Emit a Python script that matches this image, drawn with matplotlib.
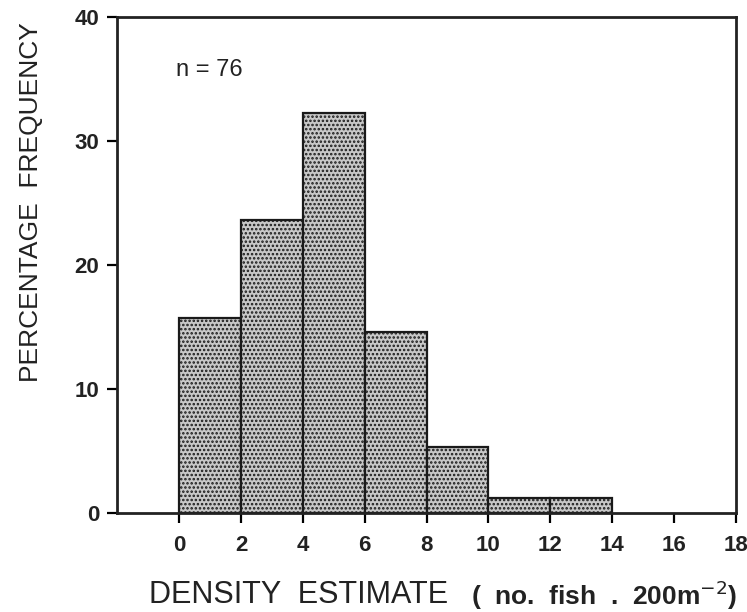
import matplotlib.pyplot as plt
import numpy as np

plt.rcParams["font.family"] = ["Liberation Sans", "DejaVu Sans"]
plt.rcParams["hatch.linewidth"] = 1.2

bin_edges = [0, 2, 4, 6, 8, 10, 12, 14]
freq = [15.7, 23.6, 32.3, 14.6, 5.3, 1.2, 1.2]
x_ticks = [0, 2, 4, 6, 8, 10, 12, 14, 16, 18]
y_ticks = [0, 10, 20, 30, 40]


def plotHist():
    fig = plt.figure(figsize=(7.47, 6.12), dpi=100)
    ax = fig.add_axes([0.157, 0.162, 0.828, 0.81])

    widths = np.diff(bin_edges)
    ax.bar(bin_edges[:-1], freq, width=widths, align="edge",
           color="#c8c8c8", edgecolor="#1a1a1a", linewidth=1.6,
           hatch="....")

    ax.set_xlim(-2, 18)
    ax.set_ylim(0, 40)
    ax.set_xticks(x_ticks)
    ax.set_yticks(y_ticks)
    ax.tick_params(direction="out", length=7, width=1.6, labelsize=16)
    ax.tick_params(axis="x", pad=9)
    ax.tick_params(axis="y", pad=6)
    for lab in ax.get_xticklabels() + ax.get_yticklabels():
        lab.set_fontweight("bold")
        lab.set_color("#222222")
    for s in ax.spines.values():
        s.set_linewidth(2)
        s.set_color("#222222")

    ax.text(-0.1, 35.7, "n = 76", fontsize=17, va="center", color="#222222")

    fig.text(0.042, 0.67, "PERCENTAGE  FREQUENCY", fontsize=19, color="#222222",
             rotation=90, ha="center", va="center")
    fig.text(0.2, 0.028, "DENSITY  ESTIMATE", fontsize=22, color="#222222",
             va="center")
    fig.text(0.63, 0.028, "(  no.  fish  .  200m$^{-2}$)", fontsize=19,
             color="#222222", fontweight="bold", va="center")

    plt.savefig("out.png", dpi=100)


if __name__ == "__main__":
    plotHist()
